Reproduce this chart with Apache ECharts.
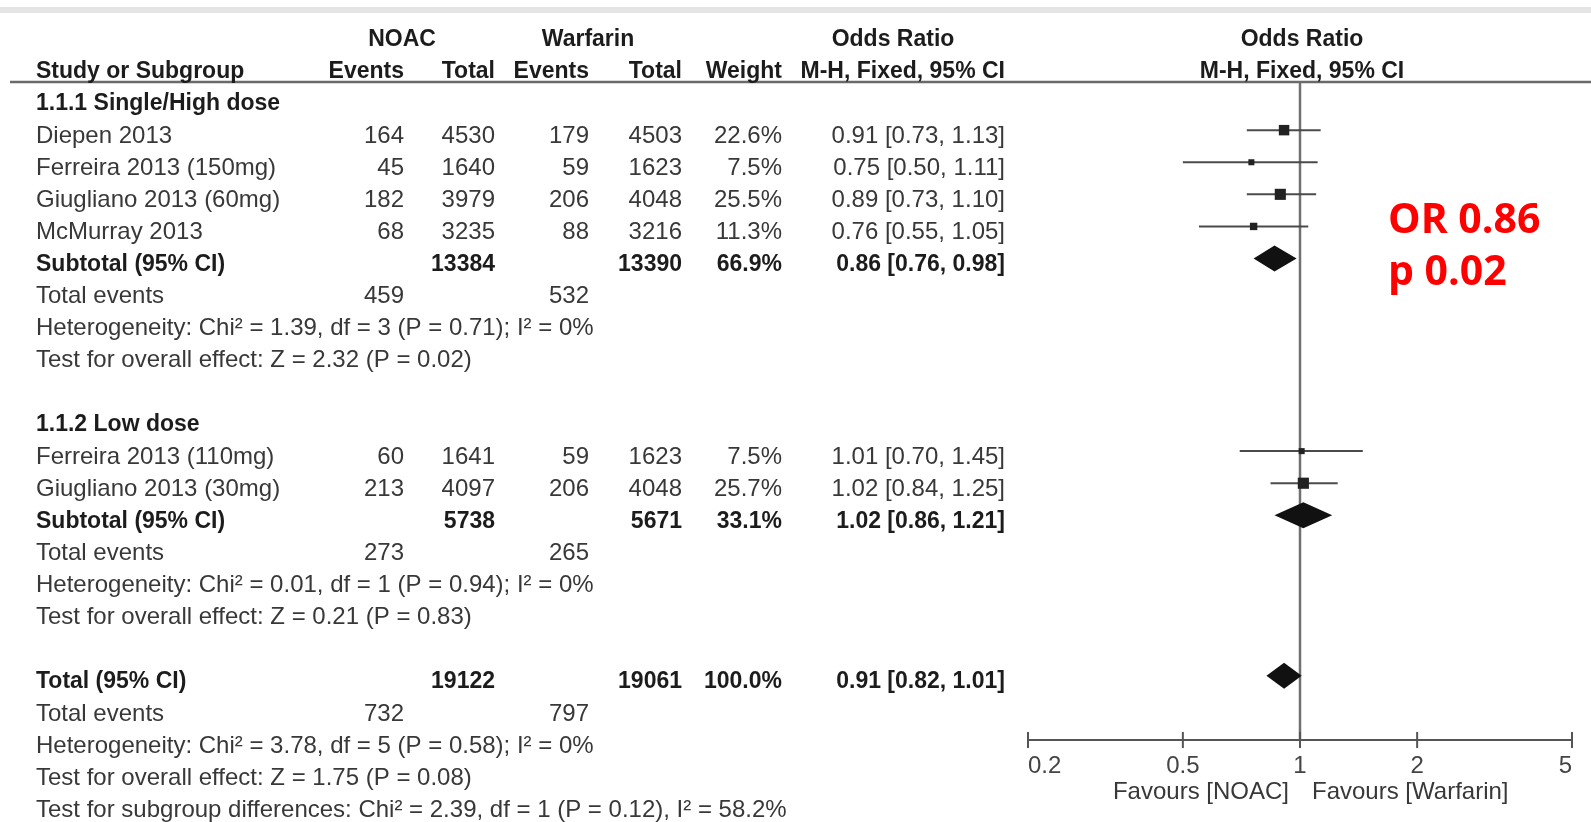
<!DOCTYPE html>
<html>
<head>
<meta charset="utf-8">
<title>Forest plot</title>
<script src="https://cdn.jsdelivr.net/npm/echarts@6/dist/echarts.min.js"></script>
<style>
  html, body { margin: 0; padding: 0; background: #fff; }
  #chart { width: 1591px; height: 822px; }
</style>
</head>
<body>
<div id="chart"></div>
<script>
// --- data ---
const groupTitles = ["1.1.1 Single/High dose", "1.1.2 Low dose"];
const studyNames = [
  "Diepen 2013",
  "Ferreira 2013 (150mg)",
  "Giugliano 2013 (60mg)",
  "McMurray 2013",
  "Ferreira 2013 (110mg)",
  "Giugliano 2013 (30mg)",
];
const studyGroup = [0, 0, 0, 0, 1, 1];
const noacEvents = [164, 45, 182, 68, 60, 213];
const noacTotal = [4530, 1640, 3979, 3235, 1641, 4097];
const warfEvents = [179, 59, 206, 88, 59, 206];
const warfTotal = [4503, 1623, 4048, 3216, 1623, 4048];
const weights = [22.6, 7.5, 25.5, 11.3, 7.5, 25.7];
const orEst = [0.91, 0.75, 0.89, 0.76, 1.01, 1.02];
const orLow = [0.73, 0.5, 0.73, 0.55, 0.7, 0.84];
const orHigh = [1.13, 1.11, 1.1, 1.05, 1.45, 1.25];

// subgroup 1, subgroup 2, overall
const pooledLabels = ["Subtotal (95% CI)", "Subtotal (95% CI)", "Total (95% CI)"];
const pooledNoacTotal = [13384, 5738, 19122];
const pooledWarfTotal = [13390, 5671, 19061];
const pooledWeight = [66.9, 33.1, 100.0];
const pooledEst = [0.86, 1.02, 0.91];
const pooledLow = [0.76, 0.86, 0.82];
const pooledHigh = [0.98, 1.21, 1.01];
const totalEventsNoac = [459, 273, 732];
const totalEventsWarf = [532, 265, 797];
const hetChi2 = ["1.39", "0.01", "3.78"];
const hetDf = [3, 1, 5];
const hetP = ["0.71", "0.94", "0.58"];
const hetI2 = [0, 0, 0];
const effectZ = ["2.32", "0.21", "1.75"];
const effectP = ["0.02", "0.83", "0.08"];
const subgroupDiff = "Test for subgroup differences: Chi\u00b2 = 2.39, df = 1 (P = 0.12), I\u00b2 = 58.2%";

const tickValues = [0.2, 0.5, 1, 2, 5];
const favourLabels = ["Favours [NOAC]", "Favours [Warfarin]"];

// --- layout / style ---
const FONT = '"Liberation Sans", Arial, sans-serif';
const FS = 24;
const FS_BOLD = 23;
const TEXT_DY = 6; // text sits a little below the marker line
const SQUARE_K = 2.2;
const DIAMOND_H = 13;
const TXT = "#383838";
const TXT_BOLD = "#1c1c1c";

const COLS = {
  name: { x: 36, align: "left" },
  nE: { x: 404, align: "right" },
  nT: { x: 495, align: "right" },
  wE: { x: 589, align: "right" },
  wT: { x: 682, align: "right" },
  wt: { x: 782, align: "right" },
  or: { x: 1005, align: "right" },
  noacHead: { x: 402, align: "center" },
  warfHead: { x: 588, align: "center" },
  orHead: { x: 893, align: "center" },
  plotHead: { x: 1302, align: "center" },
};

function fmtOR(e, l, h) {
  return `${e.toFixed(2)} [${l.toFixed(2)}, ${h.toFixed(2)}]`;
}
function cell(col, text, bold) {
  return { col, text: String(text), bold: !!bold };
}

// --- build rows ---
const tableRows = [
  {
    k: -2,
    cells: [
      cell("noacHead", "NOAC", true),
      cell("warfHead", "Warfarin", true),
      cell("orHead", "Odds Ratio", true),
      cell("plotHead", "Odds Ratio", true),
    ],
  },
  {
    k: -1,
    cells: [
      cell("name", "Study or Subgroup", true),
      cell("nE", "Events", true),
      cell("nT", "Total", true),
      cell("wE", "Events", true),
      cell("wT", "Total", true),
      cell("wt", "Weight", true),
      cell("or", "M-H, Fixed, 95% CI", true),
      cell("plotHead", "M-H, Fixed, 95% CI", true),
    ],
  },
];
const forestItems = [];

function addSummary(p, k) {
  tableRows.push({
    k,
    cells: [
      cell("name", pooledLabels[p], true),
      cell("nT", pooledNoacTotal[p], true),
      cell("wT", pooledWarfTotal[p], true),
      cell("wt", pooledWeight[p].toFixed(1) + "%", true),
      cell("or", fmtOR(pooledEst[p], pooledLow[p], pooledHigh[p]), true),
    ],
  });
  forestItems.push({ k, kind: "diamond", est: pooledEst[p], low: pooledLow[p], high: pooledHigh[p] });
  k++;
  tableRows.push({
    k,
    cells: [
      cell("name", "Total events"),
      cell("nE", totalEventsNoac[p]),
      cell("wE", totalEventsWarf[p]),
    ],
  });
  k++;
  tableRows.push({
    k,
    cells: [
      cell(
        "name",
        `Heterogeneity: Chi\u00b2 = ${hetChi2[p]}, df = ${hetDf[p]} (P = ${hetP[p]}); I\u00b2 = ${hetI2[p]}%`
      ),
    ],
  });
  k++;
  tableRows.push({
    k,
    cells: [cell("name", `Test for overall effect: Z = ${effectZ[p]} (P = ${effectP[p]})`)],
  });
  return k + 1;
}

let k = 0;
groupTitles.forEach((title, g) => {
  tableRows.push({ k, cells: [cell("name", title, true)] });
  k++;
  studyNames.forEach((name, i) => {
    if (studyGroup[i] !== g) return;
    tableRows.push({
      k,
      cells: [
        cell("name", name),
        cell("nE", noacEvents[i]),
        cell("nT", noacTotal[i]),
        cell("wE", warfEvents[i]),
        cell("wT", warfTotal[i]),
        cell("wt", weights[i].toFixed(1) + "%"),
        cell("or", fmtOR(orEst[i], orLow[i], orHigh[i])),
      ],
    });
    forestItems.push({ k, kind: "study", est: orEst[i], low: orLow[i], high: orHigh[i], weight: weights[i] });
    k++;
  });
  k = addSummary(g, k);
  k++; // blank row
});
k = addSummary(2, k);
tableRows.push({ k, cells: [cell("name", subgroupDiff)] });

const AXIS_ROW = 20; // forest x axis sits at this row level

// --- chart ---
const chart = echarts.init(document.getElementById("chart"), null, { renderer: "canvas" });

function textEl(x, y, text, align, bold) {
  return {
    type: "text",
    x,
    y,
    style: {
      text,
      font: `${bold ? "bold " + FS_BOLD : FS}px ${FONT}`,
      fill: bold ? TXT_BOLD : TXT,
      align,
      verticalAlign: "middle",
    },
  };
}

chart.setOption({
  animation: false,
  backgroundColor: "#fff",
  grid: [
    { left: 0, right: 0, top: 33.8, bottom: 17.8 },
    { left: 1028, right: 19, top: 82, bottom: 82 },
  ],
  xAxis: [
    { gridIndex: 0, type: "value", min: 0, max: 1591, show: false },
    {
      gridIndex: 1,
      type: "log",
      logBase: 10,
      min: 0.2,
      max: 5,
      position: "bottom",
      axisLine: { show: true, onZero: false, lineStyle: { color: "#555", width: 2 } },
      axisTick: { show: false },
      splitLine: { show: false },
      axisLabel: {
        customValues: tickValues,
        formatter: (v) => String(v),
        fontFamily: FONT,
        fontSize: FS,
        color: "#444",
        margin: 14,
        alignMinLabel: "left",
        alignMaxLabel: "right",
      },
    },
  ],
  yAxis: [
    { gridIndex: 0, type: "value", min: -2, max: 22, inverse: true, show: false },
    { gridIndex: 1, type: "value", min: -0.5, max: AXIS_ROW, inverse: true, show: false },
  ],
  graphic: [
    { type: "rect", shape: { x: 0, y: 7, width: 1591, height: 6 }, style: { fill: "#e4e4e4" } },
    {
      type: "line",
      shape: { x1: 10, y1: 82, x2: 1591, y2: 82 },
      style: { stroke: "#6a6a6a", lineWidth: 2.5 },
    },
    {
      type: "text",
      x: 1388,
      y: 221,
      style: {
        text: `OR ${pooledEst[0].toFixed(2)}`,
        font: 'bold 41px "Open Sans", "Noto Sans", sans-serif',
        fill: "#ff0000",
        verticalAlign: "middle",
      },
    },
    {
      type: "text",
      x: 1388,
      y: 273,
      style: {
        text: `p ${effectP[0]}`,
        font: 'bold 41px "Open Sans", "Noto Sans", sans-serif',
        fill: "#ff0000",
        verticalAlign: "middle",
      },
    },
  ],
  series: [
    {
      // table text
      type: "custom",
      xAxisIndex: 0,
      yAxisIndex: 0,
      silent: true,
      data: tableRows.map((r) => [0, r.k]),
      renderItem(params, api) {
        const row = tableRows[params.dataIndex];
        const y = api.coord([0, row.k])[1] + TEXT_DY;
        return {
          type: "group",
          children: row.cells.map((c) => {
            const col = COLS[c.col];
            const x = api.coord([col.x, row.k])[0];
            return textEl(x, y, c.text, col.align, c.bold);
          }),
        };
      },
    },
    {
      // reference line at OR = 1, axis ticks, favours labels
      type: "custom",
      xAxisIndex: 1,
      yAxisIndex: 1,
      silent: true,
      data: [[1, AXIS_ROW]],
      renderItem(params, api) {
        const top = api.coord([1, -0.5]);
        const bot = api.coord([1, AXIS_ROW]);
        const children = [
          {
            type: "line",
            shape: { x1: top[0], y1: top[1], x2: bot[0], y2: bot[1] },
            style: { stroke: "#707070", lineWidth: 2.5 },
          },
        ];
        tickValues.forEach((v) => {
          const p = api.coord([v, AXIS_ROW]);
          children.push({
            type: "line",
            shape: { x1: p[0], y1: p[1] - 8, x2: p[0], y2: p[1] + 8 },
            style: { stroke: "#555", lineWidth: 2 },
          });
        });
        children.push(textEl(bot[0] - 11, bot[1] + 52, favourLabels[0], "right", false));
        children.push(textEl(bot[0] + 12, bot[1] + 52, favourLabels[1], "left", false));
        return { type: "group", children };
      },
    },
    {
      // study squares, CIs, pooled diamonds
      type: "custom",
      xAxisIndex: 1,
      yAxisIndex: 1,
      silent: true,
      data: forestItems.map((it) => [it.est, it.k]),
      renderItem(params, api) {
        const it = forestItems[params.dataIndex];
        const pL = api.coord([it.low, it.k]);
        const pH = api.coord([it.high, it.k]);
        const pE = api.coord([it.est, it.k]);
        if (it.kind === "study") {
          const s = SQUARE_K * Math.sqrt(it.weight);
          return {
            type: "group",
            children: [
              {
                type: "line",
                shape: { x1: pL[0], y1: pL[1], x2: pH[0], y2: pH[1] },
                style: { stroke: "#4a4a4a", lineWidth: 2 },
              },
              {
                type: "rect",
                shape: { x: pE[0] - s / 2, y: pE[1] - s / 2, width: s, height: s },
                style: { fill: "#222" },
              },
            ],
          };
        }
        return {
          type: "polygon",
          shape: {
            points: [
              [pL[0], pL[1]],
              [pE[0], pE[1] - DIAMOND_H],
              [pH[0], pH[1]],
              [pE[0], pE[1] + DIAMOND_H],
            ],
          },
          style: { fill: "#111" },
        };
      },
    },
  ],
});
</script>
</body>
</html>
